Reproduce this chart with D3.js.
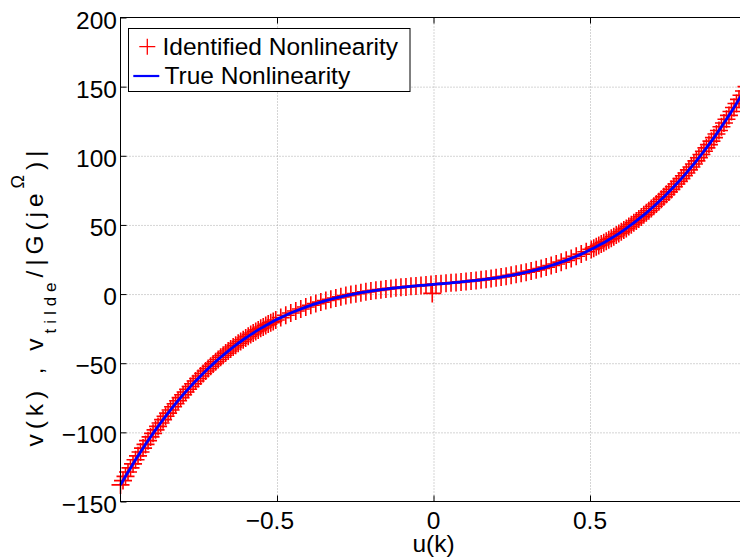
<!DOCTYPE html>
<html><head><meta charset="utf-8">
<script src="https://cdn.jsdelivr.net/npm/d3@7"></script>
<style>
html,body{margin:0;padding:0;background:#fff;}
svg{display:block;font-family:"Liberation Sans",Arial,Helvetica,sans-serif;}
</style></head><body>
<svg id="chart" width="740" height="559"></svg>
<script>
// Input amplitudes u(k) of the true-curve samples
const uValues = [
 -1.000,-0.984,-0.968,-0.952,-0.936,-0.920,-0.904,-0.888,-0.872,-0.856,
 -0.840,-0.824,-0.808,-0.792,-0.776,-0.760,-0.744,-0.728,-0.712,-0.696,
 -0.680,-0.664,-0.648,-0.632,-0.616,-0.600,-0.584,-0.568,-0.552,-0.536,
 -0.520,-0.504,-0.488,-0.472,-0.456,-0.440,-0.424,-0.408,-0.392,-0.376,
 -0.360,-0.344,-0.328,-0.312,-0.296,-0.280,-0.264,-0.248,-0.232,-0.216,
 -0.200,-0.184,-0.168,-0.152,-0.136,-0.120,-0.104,-0.088,-0.072,-0.056,
 -0.040,-0.024,-0.008, 0.008, 0.024, 0.040, 0.056, 0.072, 0.088, 0.104,
  0.120, 0.136, 0.152, 0.168, 0.184, 0.200, 0.216, 0.232, 0.248, 0.264,
  0.280, 0.296, 0.312, 0.328, 0.344, 0.360, 0.376, 0.392, 0.408, 0.424,
  0.440, 0.456, 0.472, 0.488, 0.504, 0.520, 0.536, 0.552, 0.568, 0.584,
  0.600, 0.616, 0.632, 0.648, 0.664, 0.680, 0.696, 0.712, 0.728, 0.744,
  0.760, 0.776, 0.792, 0.808, 0.824, 0.840, 0.856, 0.872, 0.888, 0.904,
  0.920, 0.936, 0.952, 0.968, 0.984, 1.000
];

// True static nonlinearity v(k) at each u(k)
const trueValues = [
 -138.00,-131.76,-125.71,-119.84,-114.16,-108.66,-103.34,-98.19,-93.21,-88.40,
 -83.75,-79.27,-74.94,-70.77,-66.76,-62.89,-59.17,-55.59,-52.15,-48.85,
 -45.69,-42.65,-39.74,-36.96,-34.30,-31.76,-29.33,-27.02,-24.82,-22.72,
 -20.73,-18.83,-17.04,-15.34,-13.72,-12.20,-10.76,-9.41,-8.13,-6.93,
 -5.80,-4.74,-3.75,-2.82,-1.95,-1.14,-0.39,0.32,0.98,1.59,
 2.16,2.69,3.19,3.65,4.08,4.49,4.87,5.24,5.58,5.91,
 6.23,6.54,6.85,7.15,7.46,7.77,8.08,8.41,8.75,9.11,
 9.48,9.88,10.30,10.76,11.24,11.76,12.32,12.92,13.56,14.25,
 14.99,15.78,16.63,17.54,18.51,19.54,20.65,21.82,23.08,24.40,
 25.81,27.31,28.89,30.56,32.33,34.19,36.15,38.21,40.38,42.65,
 45.04,47.54,50.16,52.90,55.77,58.76,61.88,65.14,68.53,72.06,
 75.73,79.55,83.52,87.64,91.91,96.34,100.93,105.69,110.61,115.70,
 120.97,126.41,132.03,137.84,143.82,150.00
];

// Identified samples: input amplitude and estimated v_tilde/|G| (denser where |u| is large)
const identU = [
 -1.000,-0.992,-0.984,-0.976,-0.968,-0.960,-0.952,-0.944,-0.936,-0.928,
 -0.920,-0.912,-0.904,-0.896,-0.888,-0.880,-0.872,-0.864,-0.856,-0.848,
 -0.840,-0.832,-0.824,-0.816,-0.808,-0.800,-0.792,-0.784,-0.776,-0.768,
 -0.760,-0.752,-0.744,-0.736,-0.728,-0.720,-0.712,-0.704,-0.696,-0.688,
 -0.680,-0.672,-0.664,-0.656,-0.648,-0.640,-0.632,-0.624,-0.616,-0.608,
 -0.600,-0.592,-0.584,-0.576,-0.568,-0.560,-0.552,-0.544,-0.536,-0.528,
 -0.520,-0.512,-0.504,
 -0.488,-0.472,-0.456,-0.440,-0.424,-0.408,-0.392,-0.376,-0.360,-0.344,
 -0.328,-0.312,-0.296,-0.280,-0.264,-0.248,-0.232,-0.216,-0.200,-0.184,
 -0.168,-0.152,-0.136,-0.120,-0.104,-0.088,-0.072,-0.056,-0.040,-0.024,
 -0.008,-0.004, 0.008, 0.024, 0.040, 0.056, 0.072, 0.088, 0.104, 0.120,
  0.136, 0.152, 0.168, 0.184, 0.200, 0.216, 0.232, 0.248, 0.264, 0.280,
  0.296, 0.312, 0.328, 0.344, 0.360, 0.376, 0.392, 0.408, 0.424, 0.440,
  0.456, 0.472, 0.488,
  0.504, 0.512, 0.520, 0.528, 0.536, 0.544, 0.552, 0.560, 0.568, 0.576,
  0.584, 0.592, 0.600, 0.608, 0.616, 0.624, 0.632, 0.640, 0.648, 0.656,
  0.664, 0.672, 0.680, 0.688, 0.696, 0.704, 0.712, 0.720, 0.728, 0.736,
  0.744, 0.752, 0.760, 0.768, 0.776, 0.784, 0.792, 0.800, 0.808, 0.816,
  0.824, 0.832, 0.840, 0.848, 0.856, 0.864, 0.872, 0.880, 0.888, 0.896,
  0.904, 0.912, 0.920, 0.928, 0.936, 0.944, 0.952, 0.960, 0.968, 0.976,
  0.984, 0.992, 1.000
];
const identV = [
 -138.0,-134.9,-131.8,-128.7,-125.7,-122.8,-119.8,-117.0,-114.2,-111.4,
 -108.7,-106.0,-103.3,-100.7,-98.2,-95.7,-93.2,-90.8,-88.4,-86.1,
 -83.8,-81.5,-79.3,-77.1,-74.9,-72.8,-70.8,-68.8,-66.8,-64.8,
 -62.9,-61.0,-59.2,-57.4,-55.6,-53.9,-52.2,-50.5,-48.9,-47.3,
 -45.7,-44.2,-42.7,-41.2,-39.7,-38.3,-37.0,-35.6,-34.3,-33.0,
 -31.8,-30.5,-29.3,-28.2,-27.0,-25.9,-24.8,-23.8,-22.7,-21.7,
 -20.7,-19.8,-18.8,
 -17.0,-15.3,-13.7,-12.2,-10.8,-9.4,-8.1,-6.9,-5.8,-4.7,
 -3.8,-2.8,-2.0,-1.1,-0.4,0.3,1.0,1.6,2.2,2.7,
 3.2,3.7,4.1,4.5,4.9,5.2,5.6,5.9,6.2,6.5,
 6.9,0.5,7.2,7.5,7.8,8.1,8.4,8.8,9.1,9.5,
 9.9,10.3,10.8,11.2,11.8,12.3,12.9,13.6,14.3,15.0,
 15.8,16.6,17.5,18.5,19.5,20.7,21.8,23.1,24.4,25.8,
 27.3,28.9,30.6,
 32.3,33.2,34.2,35.2,36.2,37.2,38.2,39.3,40.4,41.5,
 42.7,43.8,45.0,46.3,47.5,48.8,50.2,51.5,52.9,54.3,
 55.8,57.3,58.8,60.3,61.9,63.5,65.1,66.8,68.5,70.3,
 72.1,73.9,75.7,77.6,79.6,81.5,83.5,85.6,87.6,89.8,
 91.9,94.1,96.3,98.6,100.9,103.3,105.7,108.1,110.6,113.1,
 115.7,118.3,121.0,123.7,126.4,129.2,132.0,134.9,137.8,140.8,
 143.8,146.9,150.0
];

const xTickValues = [-0.5, 0, 0.5];
const yTickValues = [-150, -100, -50, 0, 50, 100, 150, 200];
const xGridValues = [-0.5, 0, 0.5];
const yGridValues = [-100, -50, 0, 50, 100, 150];

const seriesNames = ["Identified Nonlinearity", "True Nonlinearity"];

const svg = d3.select("#chart");
const plotLeft = 120.5, plotRight = 746.5, plotTop = 17.5, plotBottom = 501.5;
const FONT = 24.5;

const x = d3.scaleLinear().domain([-1, 1]).range([plotLeft, plotRight]);
const y = d3.scaleLinear().domain([-150, 200]).range([plotBottom, plotTop]);

// Dotted grid
const gx = svg.append("g").attr("transform", `translate(0,${plotBottom})`)
  .call(d3.axisBottom(x).tickValues(xGridValues).tickSize(-(plotBottom - plotTop)).tickFormat(""));
const gy = svg.append("g").attr("transform", `translate(${plotLeft},0)`)
  .call(d3.axisLeft(y).tickValues(yGridValues).tickSize(-(plotRight - plotLeft)).tickFormat(""));
[gx, gy].forEach(g => {
  g.select(".domain").remove();
  g.selectAll(".tick line").attr("stroke", "#aaaaaa").attr("stroke-width", 1)
    .attr("stroke-dasharray", "1,2");
});

// Identified markers
const plusPath = "M-9,0H9M0,-9V9";
const markerData = identU.map((u, i) => ({u, v: identV[i]}));
svg.append("g").selectAll("path").data(markerData).join("path")
  .attr("transform", d => `translate(${x(d.u)},${y(d.v)})`)
  .attr("d", plusPath)
  .attr("fill", "none").attr("stroke", "#ff0000").attr("stroke-width", 1.6);

// True curve
const trueLine = d3.line().x(d => x(d.u)).y(d => y(d.v)).curve(d3.curveMonotoneX);
svg.append("path")
  .datum(uValues.map((u, i) => ({u, v: trueValues[i]})))
  .attr("d", trueLine)
  .attr("fill", "none").attr("stroke", "#0000ff").attr("stroke-width", 2.8)
  .attr("stroke-linejoin", "round");

// Axes box
svg.append("rect").attr("x", plotLeft).attr("y", plotTop)
  .attr("width", plotRight - plotLeft).attr("height", plotBottom - plotTop)
  .attr("fill", "none").attr("stroke", "#000").attr("stroke-width", 1);

// Inward tick marks on all four sides
const tickLen = 6;
const axB = svg.append("g").attr("transform", `translate(0,${plotBottom})`)
  .call(d3.axisBottom(x).tickValues(xTickValues).tickSize(-tickLen).tickFormat(""));
const axT = svg.append("g").attr("transform", `translate(0,${plotTop})`)
  .call(d3.axisTop(x).tickValues(xTickValues).tickSize(-tickLen).tickFormat(""));
const axL = svg.append("g").attr("transform", `translate(${plotLeft},0)`)
  .call(d3.axisLeft(y).tickValues(yTickValues).tickSize(-tickLen).tickFormat(""));
const axR = svg.append("g").attr("transform", `translate(${plotRight},0)`)
  .call(d3.axisRight(y).tickValues(yTickValues).tickSize(-tickLen).tickFormat(""));
[axB, axT, axL, axR].forEach(g => {
  g.select(".domain").remove();
  g.selectAll(".tick line").attr("stroke", "#000").attr("stroke-width", 1);
});

const fmt = v => (v < 0 ? "\u2212" : "") + String(Math.abs(v));

// y tick labels
svg.append("g").selectAll("text").data(yTickValues).join("text")
  .attr("x", plotLeft - 3.5).attr("y", d => y(d) + 11)
  .attr("text-anchor", "end").attr("font-size", FONT).attr("fill", "#000")
  .text(fmt);

// x tick labels: the unsigned part is centred on the tick
const xl = svg.append("g");
xTickValues.forEach(v => {
  const t = xl.append("text").attr("font-size", FONT).attr("fill", "#000")
    .attr("y", 528.5).text(fmt(v));
  const wFull = t.node().getComputedTextLength();
  const probe = xl.append("text").attr("font-size", FONT).text(String(Math.abs(v)));
  const wNum = probe.node().getComputedTextLength();
  probe.remove();
  t.attr("x", x(v) - wNum / 2 - (wFull - wNum));
});

// x axis title
svg.append("text").attr("x", x(0)).attr("y", 551.5).attr("text-anchor", "middle")
  .attr("font-size", FONT).attr("fill", "#000").text("u(k)");

// y axis title with sub/superscripts
const yt = svg.append("text")
  .attr("transform", "translate(43,298.5) rotate(-90)")
  .attr("text-anchor", "middle").attr("font-size", FONT).attr("fill", "#000")
  .attr("textLength", 296).attr("lengthAdjust", "spacing");
yt.append("tspan").text("v(k) , v");
yt.append("tspan").attr("dy", 13).attr("font-size", 17).text("tilde");
yt.append("tspan").attr("dy", -13).text("/|G(je");
yt.append("tspan").attr("dy", -19).attr("font-size", 18).text("\u03A9");
yt.append("tspan").attr("dy", 19).text(")|");

// Legend
const lg = svg.append("g");
lg.append("rect").attr("x", 128.5).attr("y", 28.5).attr("width", 281.5).attr("height", 63)
  .attr("fill", "#fff").attr("stroke", "#000").attr("stroke-width", 1);
lg.append("path").attr("transform", "translate(147.3,46.7)")
  .attr("d", "M-8,0H8M0,-8V8").attr("fill", "none")
  .attr("stroke", "#ff0000").attr("stroke-width", 1.3);
lg.append("line").attr("x1", 133.3).attr("x2", 159.3).attr("y1", 76).attr("y2", 76)
  .attr("stroke", "#0000ff").attr("stroke-width", 2.2);
lg.append("text").attr("x", 162.5).attr("y", 55).attr("font-size", FONT).text(seriesNames[0]);
lg.append("text").attr("x", 164.5).attr("y", 84).attr("font-size", FONT).text(seriesNames[1]);
</script>
</body></html>
